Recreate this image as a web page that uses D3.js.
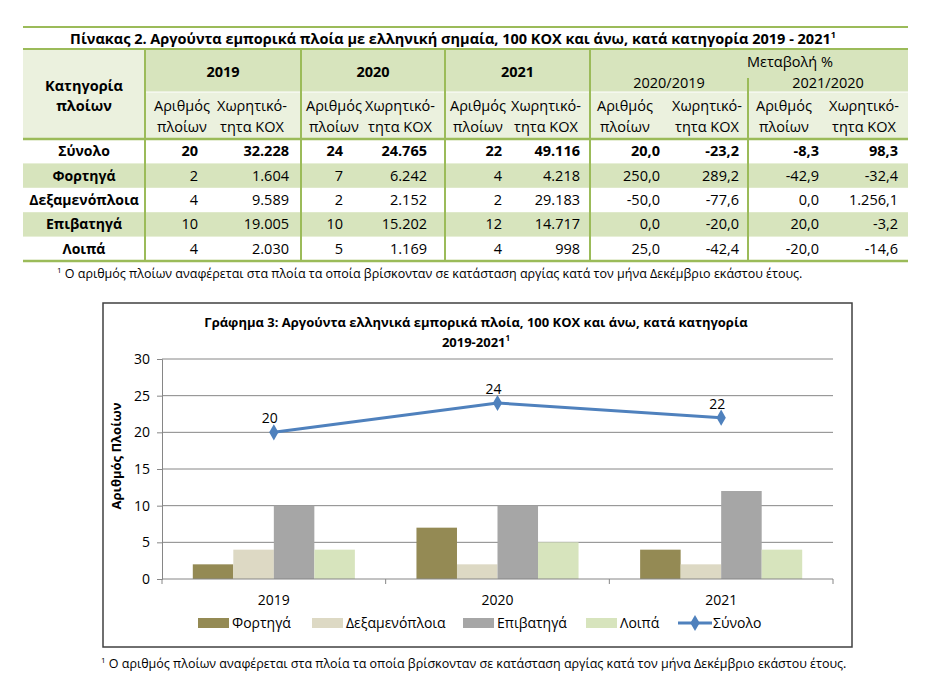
<!DOCTYPE html>
<html>
<head>
<meta charset="utf-8">
<script src="https://cdn.jsdelivr.net/npm/d3@7"></script>
<style>
  body { margin: 0; background: #fff; }
  text { font-family: "Open Sans", "Noto Sans", sans-serif; fill: #000; }
</style>
</head>
<body>
<div id="page"></div>
<script>
'use strict';

// ---- data ----
const categories = ["Σύνολο", "Φορτηγά", "Δεξαμενόπλοια", "Επιβατηγά", "Λοιπά"];
const years = ["2019", "2020", "2021"];

const ships2019 = [20, 2, 4, 10, 4];
const kox2019 = [32228, 1604, 9589, 19005, 2030];
const ships2020 = [24, 7, 2, 10, 5];
const kox2020 = [24765, 6242, 2152, 15202, 1169];
const ships2021 = [22, 4, 2, 12, 4];
const kox2021 = [49116, 4218, 29183, 14717, 998];

const chgShips20_19 = [20.0, 250.0, -50.0, 0.0, 25.0];
const chgKox20_19 = [-23.2, 289.2, -77.6, -20.0, -42.4];
const chgShips21_20 = [-8.3, -42.9, 0.0, 20.0, -20.0];
const chgKox21_20 = [98.3, -32.4, 1256.1, -3.2, -14.6];

const yTicks = [0, 5, 10, 15, 20, 25, 30];

const tableTitle = "Πίνακας 2.  Αργούντα εμπορικά πλοία με ελληνική σημαία, 100 ΚΟΧ και άνω, κατά κατηγορία 2019 - 2021";
const chartTitle1 = "Γράφημα 3: Αργούντα ελληνικά εμπορικά πλοία, 100 ΚΟΧ και άνω, κατά κατηγορία";
const chartTitle2 = "2019-2021";
const yLabel = "Αριθμός Πλοίων";
const footnote = "Ο αριθμός πλοίων αναφέρεται στα πλοία τα οποία βρίσκονταν σε κατάσταση αργίας κατά τον μήνα Δεκέμβριο εκάστου έτους.";

(function() {

  const W = 932, H = 686;
  const green = "#9BBB59", darkFill = "#D7E4BD", lightFill = "#EBF1DE";

  const locale = d3.formatLocale({decimal: ",", thousands: ".", grouping: [3], currency: ["", ""], minus: "-"});
  const fmtInt = locale.format(",.0f");
  const fmtPct = locale.format(",.1f");

  const svg = d3.select("#page").append("svg")
    .attr("width", W)
    .attr("height", H);

  makeTable();
  makeChart();

  function sup(sel, size) {
    sel.append("tspan").attr("dy", -6).style("font-size", (size || 9) + "px").text("1");
  }

  function makeTable() {
    const left = 23, right = 908;
    const colEdges = [left, 145, 301, 445, 590, 748, right];

    // rows
    const rowY = d3.scaleBand().domain(categories).range([139, 261]);

    // numeric columns: values, formatter, right edge, header centre
    const cols = [
      {vals: ships2019, f: fmtInt, x: 198, hx: 182},
      {vals: kox2019, f: fmtInt, x: 289, hx: 252},
      {vals: ships2020, f: fmtInt, x: 343, hx: 334},
      {vals: kox2020, f: fmtInt, x: 427, hx: 400},
      {vals: ships2021, f: fmtInt, x: 502, hx: 478},
      {vals: kox2021, f: fmtInt, x: 580, hx: 546},
      {vals: chgShips20_19, f: fmtPct, x: 660, hx: 625},
      {vals: chgKox20_19, f: fmtPct, x: 739, hx: 707},
      {vals: chgShips21_20, f: fmtPct, x: 819, hx: 784},
      {vals: chgKox21_20, f: fmtPct, x: 898, hx: 864}
    ];

    // header fills
    svg.append("rect").attr("x", left).attr("y", 49).attr("width", right - left).attr("height", 90)
      .attr("fill", lightFill);
    svg.append("rect").attr("x", 145).attr("y", 49).attr("width", right - 145).attr("height", 43)
      .attr("fill", darkFill);
    svg.append("line").attr("x1", 145).attr("x2", right).attr("y1", 92).attr("y2", 92)
      .attr("stroke", "#fff").attr("stroke-width", 1);

    // striped rows
    svg.selectAll(".rowfill")
      .data(categories.filter((d, i) => i % 2 === 1))
      .enter()
      .append("rect")
      .attr("x", left)
      .attr("y", d => rowY(d))
      .attr("width", right - left)
      .attr("height", rowY.bandwidth())
      .attr("fill", darkFill);

    // title
    svg.append("text")
      .attr("x", 453)
      .attr("y", 44)
      .attr("text-anchor", "middle")
      .style("font-size", "14.5px")
      .style("font-weight", "bold")
      .text(tableTitle)
      .call(sup);

    // header labels
    const head = svg.append("g");
    head.append("text").attr("x", 84).attr("y", 91).attr("text-anchor", "middle")
      .style("font-size", "14.5px").style("font-weight", "bold").text("Κατηγορία");
    head.append("text").attr("x", 84).attr("y", 111).attr("text-anchor", "middle")
      .style("font-size", "14.5px").style("font-weight", "bold").text("πλοίων");

    head.selectAll(".year")
      .data(years)
      .enter()
      .append("text")
      .attr("x", (d, i) => (colEdges[i + 1] + colEdges[i + 2]) / 2)
      .attr("y", 77)
      .attr("text-anchor", "middle")
      .style("font-size", "14.5px")
      .style("font-weight", "bold")
      .text(d => d);

    head.append("text").attr("x", 790).attr("y", 67).attr("text-anchor", "middle")
      .style("font-size", "14.5px").text("Μεταβολή %");
    head.append("text").attr("x", 669).attr("y", 88).attr("text-anchor", "middle")
      .style("font-size", "14.5px").text(years[1] + "/" + years[0]);
    head.append("text").attr("x", 828).attr("y", 88).attr("text-anchor", "middle")
      .style("font-size", "14.5px").text(years[2] + "/" + years[1]);

    cols.forEach((c, i) => {
      const isShips = i % 2 === 0;
      head.append("text").attr("x", c.hx).attr("y", 111).attr("text-anchor", "middle")
        .style("font-size", "14.5px").text(isShips ? "Αριθμός" : "Χωρητικό-");
      head.append("text").attr("x", c.hx).attr("y", 132).attr("text-anchor", "middle")
        .style("font-size", "14.5px").text(isShips ? "πλοίων" : "τητα ΚΟΧ");
    });

    // body text
    svg.selectAll(".cat")
      .data(categories)
      .enter()
      .append("text")
      .attr("x", 84)
      .attr("y", d => rowY(d) + rowY.bandwidth() / 2 + 5)
      .attr("text-anchor", "middle")
      .style("font-size", "14px")
      .style("font-weight", "bold")
      .text(d => d);

    cols.forEach(c => {
      svg.selectAll(null)
        .data(c.vals)
        .enter()
        .append("text")
        .attr("x", c.x)
        .attr("y", (d, i) => rowY(categories[i]) + rowY.bandwidth() / 2 + 5)
        .attr("text-anchor", "end")
        .style("font-size", "14.5px")
        .style("font-weight", (d, i) => i === 0 ? "bold" : "normal")
        .text(d => c.f(d));
    });

    // rules
    const rules = svg.append("g").attr("stroke", green);
    [27, 49, 139, 261].forEach(y => {
      rules.append("line").attr("x1", left).attr("x2", right).attr("y1", y).attr("y2", y)
        .attr("stroke-width", y === 139 || y === 261 ? 2.5 : 2);
    });
    colEdges.slice(1, 5).forEach(x => {
      rules.append("line").attr("x1", x).attr("x2", x).attr("y1", 49).attr("y2", 261).attr("stroke-width", 2);
    });
    rules.append("line").attr("x1", 748).attr("x2", 748).attr("y1", 78).attr("y2", 261).attr("stroke-width", 2);

    // footnote
    svg.append("text")
      .attr("x", 57)
      .attr("y", 278)
      .style("font-size", "12.5px")
      .call(s => s.append("tspan").attr("dy", -5).style("font-size", "8px").text("1"))
      .call(s => s.append("tspan").attr("dy", 5).text("  " + footnote));
  }

  function makeChart() {
    const box = {x: 103, y: 303, w: 749, h: 344};
    const plot = {left: 162, right: 833, top: 359, bottom: 579};

    const series = categories.slice(1);
    const seriesColors = ["#948A54", "#DDD9C4", "#A6A6A6", "#D7E4BD"];
    const perYear = [ships2019, ships2020, ships2021];
    const lineColor = "#4F81BD";

    svg.append("rect")
      .attr("x", box.x).attr("y", box.y).attr("width", box.w).attr("height", box.h)
      .attr("fill", "#fff").attr("stroke", "#404040").attr("stroke-width", 1.5);

    // title
    svg.append("text").attr("x", 476).attr("y", 327).attr("text-anchor", "middle")
      .style("font-size", "13px").style("font-weight", "bold").text(chartTitle1);
    svg.append("text").attr("x", 476).attr("y", 347).attr("text-anchor", "middle")
      .style("font-size", "13px").style("font-weight", "bold").text(chartTitle2).call(sup, 8);

    const y = d3.scaleLinear().domain([0, 30]).range([plot.bottom, plot.top]);
    const x0 = d3.scaleBand().domain(years).range([plot.left, plot.right]);
    const x1 = d3.scaleBand().domain(series).range([0, x0.bandwidth()]).paddingOuter(0.76);
    const color = d3.scaleOrdinal().domain(series).range(seriesColors);

    // grid
    svg.append("g")
      .selectAll("line")
      .data(yTicks.slice(1))
      .enter()
      .append("line")
      .attr("x1", plot.left).attr("x2", plot.right)
      .attr("y1", d => y(d)).attr("y2", d => y(d))
      .attr("stroke", "#868686").attr("stroke-width", 1);

    // y axis
    const yAxis = svg.append("g")
      .attr("transform", "translate(" + plot.left + ",0)")
      .call(d3.axisLeft(y).tickValues(yTicks).tickSize(5).tickPadding(7));
    yAxis.select(".domain").attr("stroke", "#868686");
    yAxis.selectAll(".tick line").attr("stroke", "#868686");
    yAxis.selectAll(".tick text").style("font-size", "14px").style("font-family", "'Open Sans', sans-serif").attr("fill", "#000");

    // bars
    const groups = svg.append("g")
      .selectAll("g")
      .data(years)
      .enter()
      .append("g")
      .attr("transform", d => "translate(" + x0(d) + ",0)");

    groups.selectAll("rect")
      .data((yr, yi) => series.map((s, si) => ({s: s, v: perYear[yi][si + 1]})))
      .enter()
      .append("rect")
      .attr("x", d => x1(d.s))
      .attr("width", x1.bandwidth())
      .attr("y", d => y(d.v))
      .attr("height", d => y(0) - y(d.v))
      .attr("fill", d => color(d.s));

    // x axis
    const xAxis = svg.append("g").attr("transform", "translate(0," + plot.bottom + ")");
    xAxis.append("line").attr("x1", plot.left).attr("x2", plot.right).attr("stroke", "#868686");
    xAxis.selectAll(".xt")
      .data(years.map(d => x0(d)).concat([plot.right]))
      .enter()
      .append("line")
      .attr("x1", d => d).attr("x2", d => d).attr("y1", 0).attr("y2", 5)
      .attr("stroke", "#868686");
    xAxis.selectAll("text")
      .data(years)
      .enter()
      .append("text")
      .attr("x", d => x0(d) + x0.bandwidth() / 2)
      .attr("y", 26)
      .attr("text-anchor", "middle")
      .style("font-size", "14px")
      .text(d => d);

    // total line
    const totals = perYear.map(a => a[0]);
    const cx = (d, i) => x0(years[i]) + x0.bandwidth() / 2;
    svg.append("path")
      .datum(totals)
      .attr("d", d3.line().x(cx).y(d => y(d)))
      .attr("fill", "none")
      .attr("stroke", lineColor)
      .attr("stroke-width", 3);
    svg.selectAll(".pt")
      .data(totals)
      .enter()
      .append("path")
      .attr("transform", (d, i) => "translate(" + cx(d, i) + "," + y(d) + ")")
      .attr("d", d3.symbol().type(d3.symbolDiamond).size(75))
      .attr("fill", lineColor);
    svg.selectAll(".ptlabel")
      .data(totals)
      .enter()
      .append("text")
      .attr("x", (d, i) => cx(d, i) - 4)
      .attr("y", d => y(d) - 9)
      .attr("text-anchor", "middle")
      .style("font-size", "14px")
      .text(d => d);

    // y label
    svg.append("text")
      .attr("transform", "translate(121,456)rotate(-90)")
      .attr("text-anchor", "middle")
      .style("font-size", "13px")
      .style("font-weight", "bold")
      .text(yLabel);

    // legend
    const legendX = [198, 312, 463, 586];
    const ly = 623;
    const legend = svg.append("g");
    series.forEach((s, i) => {
      legend.append("rect").attr("x", legendX[i]).attr("y", ly - 5).attr("width", 31).attr("height", 10)
        .attr("fill", color(s));
      legend.append("text").attr("x", legendX[i] + 34).attr("y", ly + 5).style("font-size", "14px").text(s);
    });
    legend.append("line").attr("x1", 678).attr("x2", 712).attr("y1", ly).attr("y2", ly)
      .attr("stroke", lineColor).attr("stroke-width", 3);
    legend.append("path").attr("transform", "translate(695," + ly + ")")
      .attr("d", d3.symbol().type(d3.symbolDiamond).size(75)).attr("fill", lineColor);
    legend.append("text").attr("x", 713).attr("y", ly + 5).style("font-size", "14px").text(categories[0]);

    // footnote below chart
    svg.append("text")
      .attr("x", 101)
      .attr("y", 668)
      .style("font-size", "12.5px")
      .call(s => s.append("tspan").attr("dy", -5).style("font-size", "8px").text("1"))
      .call(s => s.append("tspan").attr("dy", 5).text("  " + footnote));
  }

})();
</script>
</body>
</html>
